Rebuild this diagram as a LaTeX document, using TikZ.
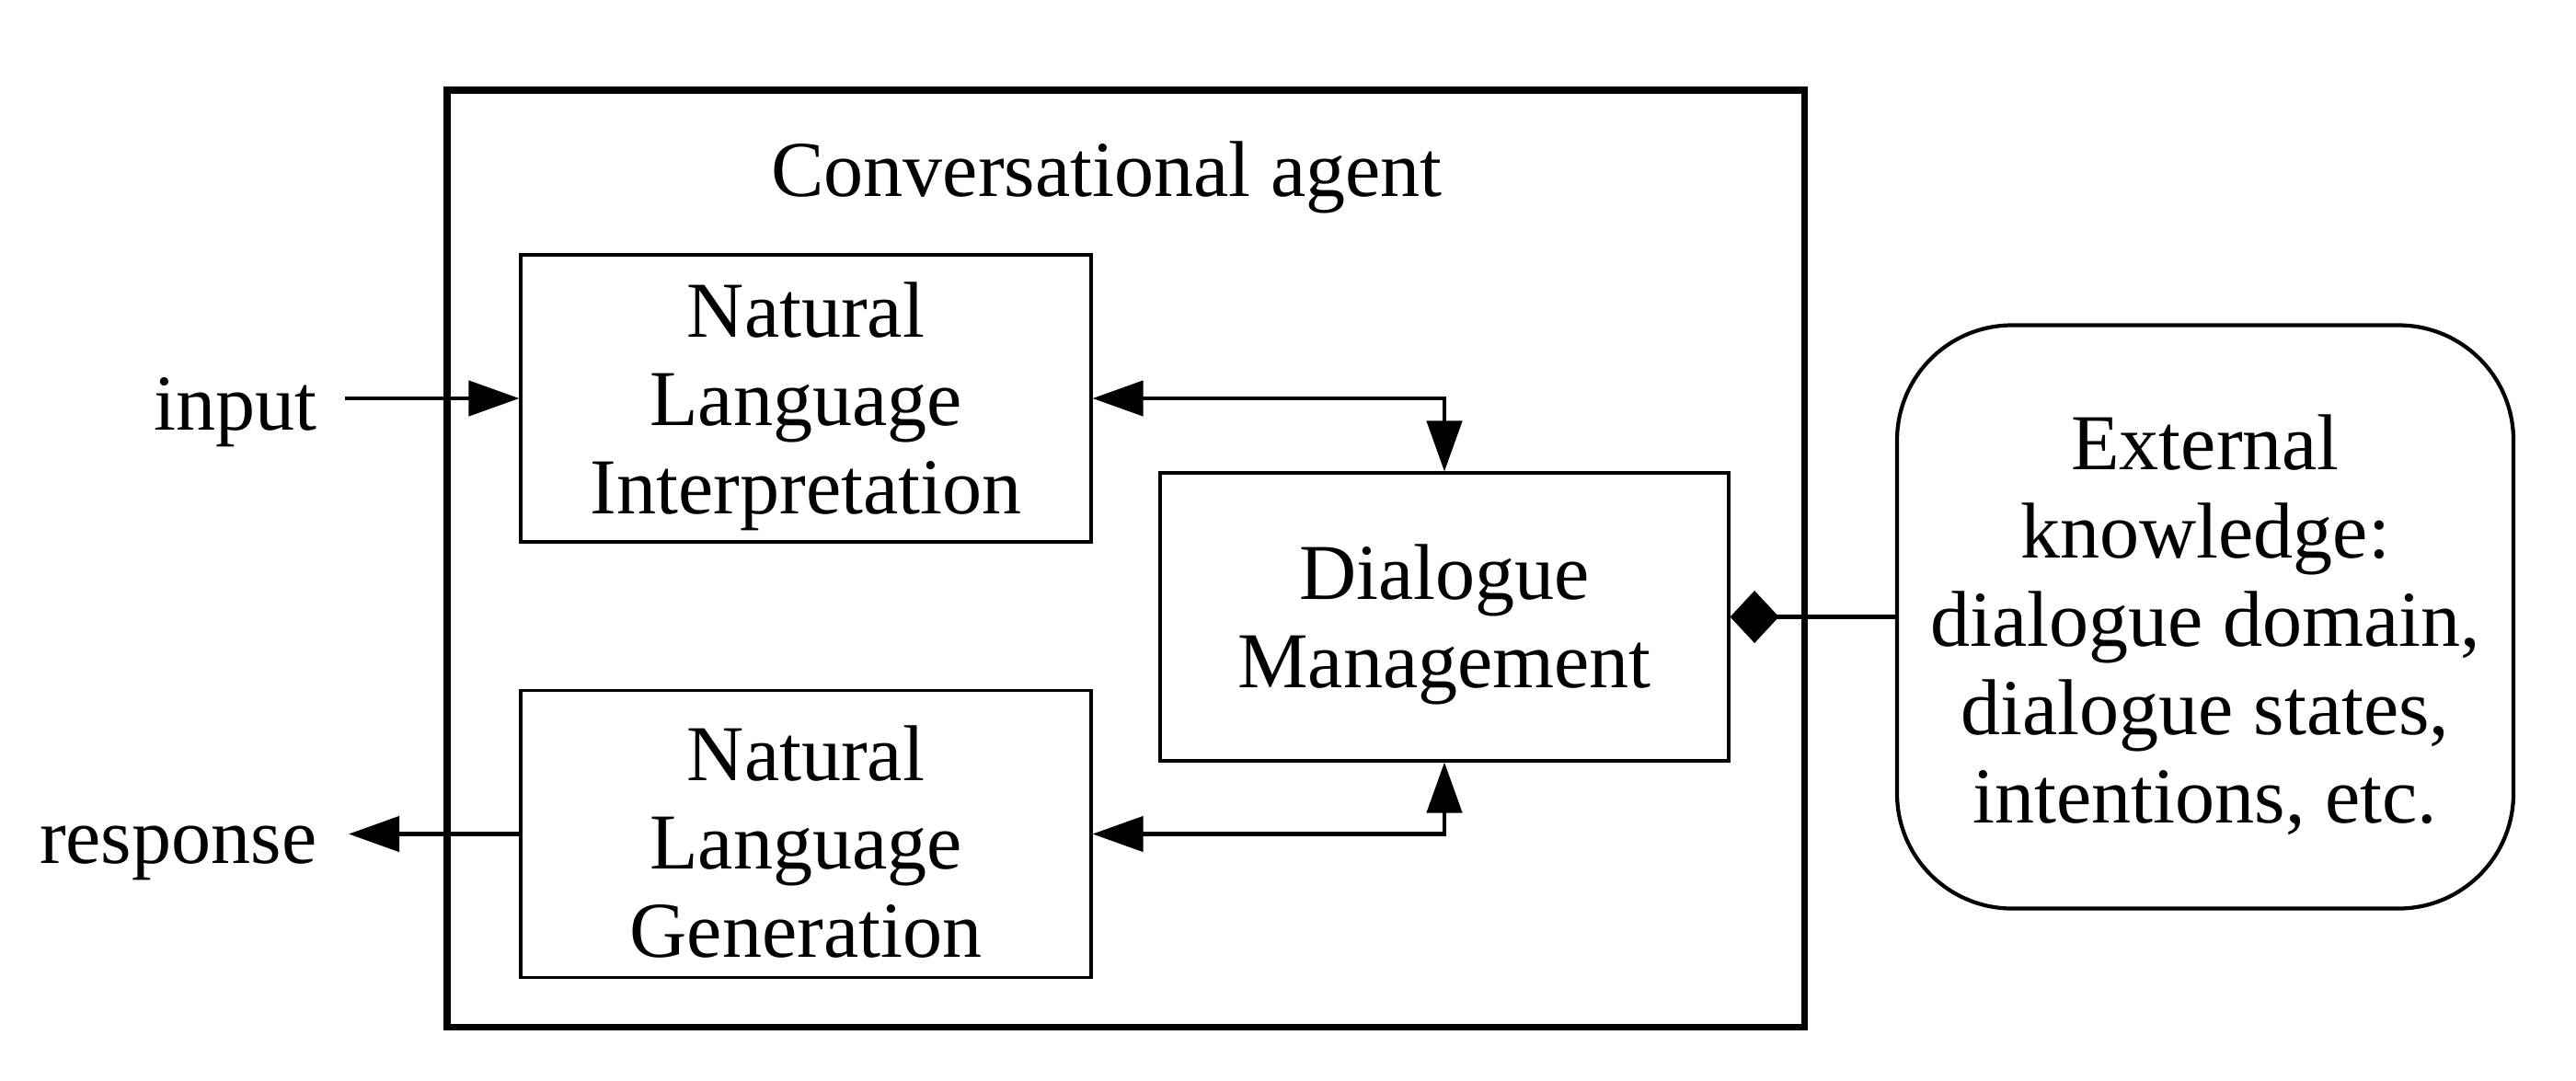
\documentclass[tikz,border=0pt]{standalone}
\usepackage{fontspec}
\setmainfont{Liberation Serif}
\usetikzlibrary{arrows.meta,positioning,calc,shapes.geometric}
\newcommand{\boxtop}{\rule{0pt}{22pt}}
\tikzset{
  bnode/.style={draw, line width=0.9pt, align=center, inner sep=0pt,
    minimum width=6.2cm, minimum height=3.12cm},
  agentframe/.style={draw, line width=2pt, inner sep=0pt,
    minimum width=14.75cm, minimum height=10.18cm},
  extnode/.style={draw, line width=1.2pt, rounded corners=1.25cm, align=center,
    inner sep=0pt, minimum width=6.7cm, minimum height=6.34cm},
  io/.style={inner sep=0pt, anchor=base east},
  flow/.style={line width=1.3pt, {Triangle[length=5.5mm,width=3.8mm]}-{Triangle[length=5.5mm,width=3.8mm]}},
  oneway/.style={line width=1.3pt, -{Triangle[length=5.5mm,width=3.8mm]}},
  owns/.style={line width=1.3pt, {Diamond[length=5.3mm,width=5.7mm]}-},
}
\begin{document}
\begin{tikzpicture}[font=\fontsize{24.5}{27.3}\selectfont]
    \useasboundingbox (0,0) rectangle (28,-11.74);
    % --- agent frame and title ---
    \node[agentframe] (agent) at (12.235,-6.07) {};
    \node (title) at (12.03,-1.93) {Conversational agent};
    % --- blocks ---
    \node[bnode] (nli) at (8.76,-4.33)  {\boxtop Natural\\Language\\Interpretation};
    \node[bnode] (nlg) at (8.76,-9.065) {\boxtop Natural\\Language\\Generation};
    \node[bnode, minimum width=6.18cm, minimum height=3.13cm]
                 (dm)  at (15.70,-6.705) {\boxtop Dialogue\\Management};
    \node[extnode] (ext) at (23.97,-6.705)
      {\boxtop External\\knowledge:\\dialogue domain,\\dialogue states,\\intentions, etc.};
    % --- outside labels ---
    \node[io] (input)    at (3.45,-4.67) {input};
    \node[io] (response) at (3.45,-9.38) {response};
    % --- connectors ---
    \draw[oneway] ([xshift=3mm]input.east |- nli.west) -- (nli.west);
    \draw[oneway] (nlg.west) -- ([xshift=3.4mm]response.east |- nlg.west);
    \draw[flow] (nli.east) -| (dm.north);
    \draw[flow] (nlg.east) -| (dm.south);
    \draw[owns] (dm.east) -- (ext.west);
\end{tikzpicture}
\end{document}
